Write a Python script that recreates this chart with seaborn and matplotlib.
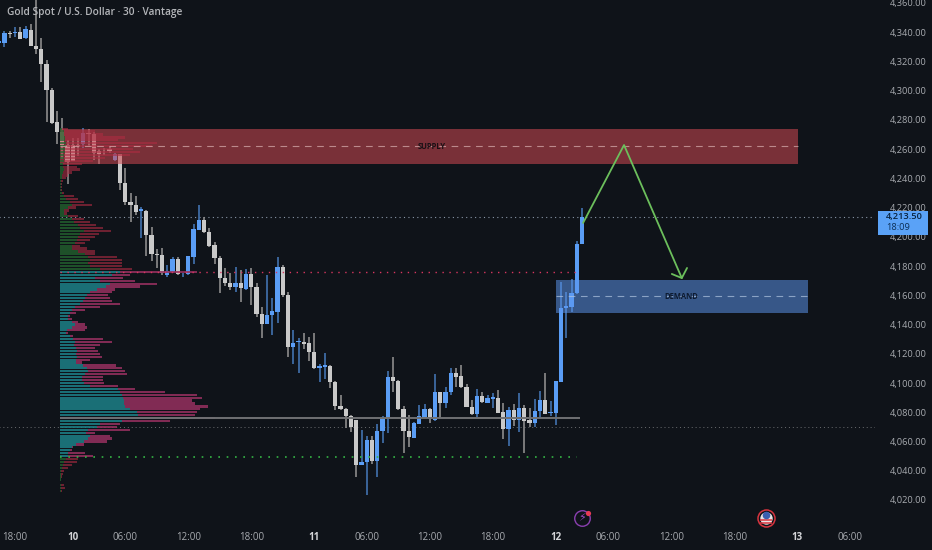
import numpy as np
import matplotlib.pyplot as plt
from matplotlib.patches import Rectangle
import pandas as pd
import seaborn as sns

# candles, 30 min bars
open_ = [4332.6,4332.6,4339.4,4339.4,4340.1,4335.7,4341.5,4330.5,4328.8,4318.2,
         4300.4,4278.6,4271.7,4262.8,4262.8,4262.6,4263.5,4271.0,4270.0,4258.7,
         4259.0,4260.1,4252.6,4256.7,4236.8,4223.8,4221.8,4217.7,4217.7,4201.3,
         4188.3,4187.6,4173.9,4176.0,4184.8,4173.6,4174.6,4186.2,4204.7,4211.5,
         4203.3,4194.4,4185.5,4171.8,4168.4,4165.7,4168.4,4164.3,4174.6,4165.7,
         4147.2,4140.4,4146.5,4148.6,4179.4,4160.2,4124.7,4128.1,4128.1,4127.4,
         4121.2,4110.3,4111.0,4111.7,4100.7,4084.3,4082.2,4077.5,4074.7,4043.9,
         4046.0,4061.0,4046.7,4067.2,4076.1,4104.1,4101.4,4082.2,4067.2,4062.4,
         4072.0,4076.8,4082.2,4074.7,4093.9,4086.3,4093.9,4106.9,4104.8,4097.3,
         4083.6,4078.8,4091.1,4086.3,4089.1,4089.8,4080.2,4068.6,4081.6,4074.7,
         4082.9,4074.7,4072.7,4080.9,4088.4,4079.2,4079.5,4100.7,4151.3,4152.0,
         4161.6,4195.1]
high = [4336.0,4340.8,4340.8,4343.5,4343.5,4344.2,4345.6,4362.0,4336.0,4321.0,
        4301.8,4286.1,4281.3,4266.2,4267.6,4267.6,4274.4,4273.8,4271.7,4260.1,
        4260.8,4262.1,4257.3,4256.7,4247.1,4230.0,4227.9,4220.4,4218.4,4206.7,
        4191.7,4192.4,4180.7,4186.2,4186.2,4175.3,4186.9,4208.8,4221.8,4213.6,
        4206.0,4196.5,4186.9,4178.7,4175.3,4179.4,4177.3,4178.0,4178.7,4168.4,
        4152.0,4173.9,4158.2,4186.2,4180.7,4162.3,4136.3,4130.8,4134.2,4131.5,
        4134.2,4113.0,4120.5,4112.3,4101.4,4091.8,4082.9,4078.1,4074.7,4067.9,
        4063.8,4063.8,4072.0,4077.5,4108.2,4117.8,4102.1,4084.3,4078.1,4073.4,
        4085.0,4085.7,4082.9,4106.2,4093.9,4097.3,4110.3,4110.3,4112.3,4099.3,
        4088.4,4095.9,4093.9,4091.8,4093.2,4095.2,4086.3,4083.6,4085.7,4093.2,
        4085.0,4082.9,4089.1,4094.6,4106.9,4087.7,4101.4,4169.1,4162.3,4171.2,
        4197.2,4219.7]
low = [4331.0,4329.9,4336.0,4336.7,4335.3,4335.3,4330.5,4325.0,4305.9,4278.6,
       4277.2,4263.5,4253.2,4236.1,4251.9,4255.3,4260.8,4262.1,4252.6,4249.8,
       4256.0,4257.3,4251.9,4232.0,4221.8,4210.2,4214.9,4199.2,4186.9,4183.5,
       4178.7,4173.9,4172.5,4175.3,4173.9,4172.5,4173.9,4181.4,4204.7,4202.6,
       4193.0,4181.4,4161.6,4166.4,4163.6,4162.3,4155.4,4163.6,4153.4,4145.2,
       4130.8,4140.4,4132.9,4141.1,4158.9,4117.8,4113.0,4106.9,4123.3,4115.1,
       4109.6,4100.7,4102.8,4096.6,4081.6,4081.6,4069.2,4066.5,4035.7,4043.9,
       4023.4,4044.6,4035.7,4059.0,4065.8,4093.9,4081.6,4052.1,4056.2,4062.4,
       4072.0,4076.1,4072.7,4074.0,4076.1,4082.9,4091.8,4097.3,4096.6,4083.6,
       4078.1,4076.8,4086.3,4086.3,4082.9,4079.5,4061.7,4056.9,4070.6,4066.5,
       4052.1,4069.9,4069.9,4076.8,4078.8,4077.5,4071.3,4100.7,4130.8,4148.6,
       4160.9,4195.1]
close = [4334.0,4339.4,4338.7,4340.1,4335.3,4342.2,4330.5,4328.5,4318.2,4300.4,
         4277.9,4271.7,4262.8,4251.2,4251.9,4261.9,4271.0,4270.0,4257.3,4256.7,
         4258.7,4258.7,4256.7,4236.8,4223.8,4221.8,4217.0,4218.7,4201.3,4188.3,
         4187.6,4175.3,4176.6,4184.8,4174.6,4174.2,4186.9,4205.4,4211.5,4203.3,
         4193.7,4185.5,4171.8,4168.4,4165.7,4168.4,4165.0,4174.6,4165.7,4147.2,
         4140.4,4146.5,4149.3,4179.4,4160.2,4124.7,4127.4,4128.8,4126.7,4121.2,
         4110.3,4111.7,4112.3,4100.7,4084.3,4082.2,4077.5,4069.9,4043.9,4046.0,
         4061.0,4046.7,4067.2,4075.4,4104.1,4101.4,4082.2,4067.2,4063.1,4072.7,
         4077.5,4082.2,4075.4,4093.9,4086.3,4093.9,4106.9,4104.1,4097.3,4083.6,
         4078.8,4091.1,4087.0,4089.8,4090.5,4079.5,4068.6,4081.6,4074.7,4082.9,
         4074.0,4072.7,4080.9,4088.4,4078.8,4080.2,4101.4,4151.3,4152.7,4161.6,
         4195.1,4213.5]

# volume profile, rows go down from the top price in 2 dollar steps
profile_top = 4274
profile_step = 2
vol_total = [8,35,43,65,58,97,92,73,80,70,
             45,33,22,17,20,12,8,6,3,2,
             2,2,4,14,18,24,32,16,9,7,
             18,24,30,36,43,51,39,35,30,25,
             20,27,35,35,57,62,62,62,72,137,
             70,63,75,97,80,55,52,48,50,52,
             60,40,25,16,10,12,18,25,27,25,
             8,13,43,52,40,35,38,40,42,30,
             22,56,62,65,67,43,43,44,58,75,
             105,137,142,132,135,148,140,137,135,155,
             110,60,57,70,35,50,52,47,24,13,
             12,25,33,18,17,12,8,4,3,2,
             1,0,4,5,2]
vol_buy = [2,4,4,5,5,6,6,5,5,4,
           4,4,3,3,4,3,2,2,1,1,
           1,1,2,4,6,10,12,8,4,4,
           8,12,14,18,20,24,20,18,17,15,
           12,12,18,25,28,30,28,30,40,60,
           52,35,40,50,46,37,30,27,25,23,
           20,15,12,10,8,8,12,15,12,7,
           6,10,13,15,14,16,17,16,17,16,
           16,23,27,28,25,22,22,24,30,58,
           60,62,63,64,64,65,70,77,78,80,
           62,40,37,28,26,30,28,24,16,12,
           10,8,8,6,4,3,2,1,1,0.5,
           0.5,0,1,1,1]

price_ticks = [4020,4040,4060,4080,4100,4120,4140,4160,4180,4200,4220,4240,
               4260,4280,4300,4320,4340,4360]
time_pos = [3,14,24,36,48,60,70,82,94,106,116,128,140,152,162]
time_labels = ['18:00','10','06:00','12:00','18:00','11','06:00','12:00','18:00',
               '12','06:00','12:00','18:00','13','06:00']
day_labels = ['10','11','12','13']

# levels
supply_low, supply_high = 4249.8, 4273.8
demand_low, demand_high = 4148.0, 4170.5
last_price = 4213.5
level_red = 4175.9
level_poc = 4075.8
level_green = 4049.4
level_dark = 4070.0

# the drawn forecast
path_x = [111.2,119,130]
path_y = [4209.5,4262.8,4171.8]
head_x = [128.1,130,131]
head_y = [4174.6,4171.8,4178.7]

BG = '#0f1319'
BLUE = '#5a9df5'
WHITE = '#c9c9c9'
TXT = '#a8abb0'

sns.set_theme(style='dark', rc={'axes.facecolor':BG,'figure.facecolor':BG,
                                'axes.grid':False})
plt.rcParams['font.family'] = ['Open Sans','DejaVu Sans']

fig = plt.figure(figsize=(9.32,5.5),dpi=100)
ax = fig.add_axes([0,30/550,875/932,520/550])
ax.set_xlim(0.143,166.8)
ax.set_ylim(4006.3,4362)
for s in ax.spines.values():
    s.set_visible(False)

df = pd.DataFrame({'o':open_,'h':high,'l':low,'c':close})
df['i'] = df.index
up = df.c >= df.o

# candles
ax.vlines(df.i[up],df.l[up],df.h[up],color='#4273b0',lw=1.2,zorder=2)
ax.vlines(df.i[~up],df.l[~up],df.h[~up],color='#8c8c8c',lw=1.2,zorder=2)
ax.bar(df.i[up],(df.c-df.o)[up],bottom=df.o[up],width=.84,color=BLUE,lw=0,zorder=2.5)
ax.bar(df.i[~up],(df.o-df.c)[~up],bottom=df.c[~up],width=.84,color=WHITE,lw=0,zorder=2.5)

# zones sit over the candles, see through
ax.add_patch(Rectangle((11.6,supply_low),140.5,supply_high-supply_low,color='#d14952',alpha=.55,lw=0,zorder=2.8))
ax.add_patch(Rectangle((106,demand_low),48,demand_high-demand_low,color='#5d97f0',alpha=.52,lw=0,zorder=2.8))
ax.hlines((supply_low+supply_high)/2,11.6,152.1,color='#d9b0b0',lw=0.8,ls=(0,(6,5)),alpha=.7,zorder=4)
ax.hlines((demand_low+demand_high)/2,106,154,color='#b0c4e0',lw=0.8,ls=(0,(6,5)),alpha=.7,zorder=4)
ax.text(82.4,(supply_low+supply_high)/2,'SUPPLY',color='#1a1015',fontsize=5.5,fontweight='bold',ha='center',va='center',zorder=5)
ax.text(130,(demand_low+demand_high)/2,'DEMAND',color='#0d1a30',fontsize=5.5,fontweight='bold',ha='center',va='center',zorder=5)

# horizontal levels
ax.hlines(last_price,0,166.8,color='#8a97a8',lw=0.8,ls=(0,(1,3)),zorder=1.5)
ax.hlines(level_dark,0,166.8,color='#6a6d70',lw=0.7,ls=(0,(1,3)),zorder=1.5)
ax.hlines(level_red,11.6,110,color='#d8365f',lw=1,ls=(0,(1,4)),zorder=4)
ax.hlines(level_green,11.6,110,color='#35b545',lw=1.2,ls=(0,(1,4)),zorder=4)
ax.hlines(level_poc,11.6,110.6,color='#6f7073',lw=1.4,zorder=4)

# volume profile on top of the candles
prof = pd.DataFrame({'total':vol_total,'buy':vol_buy})
prof['price'] = profile_top-profile_step*prof.index
prof['sell'] = prof.total-prof.buy
inside = (prof.price<level_red+0.5)&(prof.price>level_green)
px = 1/5.25
ax.barh(prof.price[inside],prof.buy[inside]*px,left=11.6,height=1.5,color='#1c8087',lw=0,alpha=.85,zorder=3)
ax.barh(prof.price[inside],prof.sell[inside]*px,left=11.6+prof.buy[inside]*px,height=1.5,color='#96305f',lw=0,alpha=.85,zorder=3)
ax.barh(prof.price[~inside],prof.buy[~inside]*px,left=11.6,height=1.5,color='#24652f',lw=0,alpha=.75,zorder=3)
ax.barh(prof.price[~inside],prof.sell[~inside]*px,left=11.6+prof.buy[~inside]*px,height=1.5,color='#ad2c42',lw=0,alpha=.6,zorder=3)

# forecast arrow
sns.lineplot(x=path_x,y=path_y,sort=False,color='#6cbf5c',lw=1.3,ax=ax,zorder=6,estimator=None)
sns.lineplot(x=head_x,y=head_y,sort=False,color='#6cbf5c',lw=1.3,ax=ax,zorder=6,estimator=None)

# axes text
ax.set_yticks(price_ticks)
ax.set_yticklabels([f'{p:,.2f}' for p in price_ticks],color=TXT,fontsize=6.7)
ax.yaxis.tick_right()
ax.tick_params(axis='y',length=0,pad=11)
ax.set_xticks(time_pos)
ax.set_xticklabels(time_labels,color=TXT,fontsize=7)
ax.tick_params(axis='x',length=0,pad=9)
ax.set_xlabel('')
ax.set_ylabel('')
for t in ax.get_xticklabels():
    if t.get_text() in day_labels:
        t.set_fontweight('bold')
        t.set_color('#d4d5d8')

fig.text(7/932,1-12.5/550,'Gold Spot / U.S. Dollar · 30 · Vantage',color='#b4b6ba',fontsize=7.3,
         fontweight='semibold',va='center')

# price badge
fig.add_artist(Rectangle((878/932,1-235/550),50/932,24/550,color='#5aa2f7',lw=0,transform=fig.transFigure))
fig.text(886/932,1-217/550,f'{last_price:,.2f}',color='#08233f',fontsize=6.7,fontweight='semibold',va='center')
fig.text(886/932,1-228/550,'18:09',color='#0c2f55',fontsize=6.7,va='center')

# event icons
ax.scatter([111],[4007.7],s=125,facecolor=BG,edgecolor='#8a3fb0',lw=1,clip_on=False,zorder=7)
ax.text(111,4007.7,'\u26a1',color='#9a4cc4',fontsize=8,ha='center',va='center',family='DejaVu Sans',clip_on=False,zorder=8)
ax.scatter([112.1],[4011.2],s=14,color='#e83a55',lw=0,clip_on=False,zorder=8)
ax.scatter([146],[4007.7],s=150,facecolor=BG,edgecolor='#d8343f',lw=1.1,clip_on=False,zorder=7)
ax.scatter([146],[4007.7],s=80,color='#e8e4e4',lw=0,clip_on=False,zorder=8)
ax.hlines([4006.2,4004.2],144.9,147.1,color='#d8343f',lw=1.1,clip_on=False,zorder=9)
ax.scatter([146],[4010],s=30,color='#3a5fb0',lw=0,clip_on=False,zorder=9)

fig.savefig('out.png',dpi=100,facecolor=BG)
